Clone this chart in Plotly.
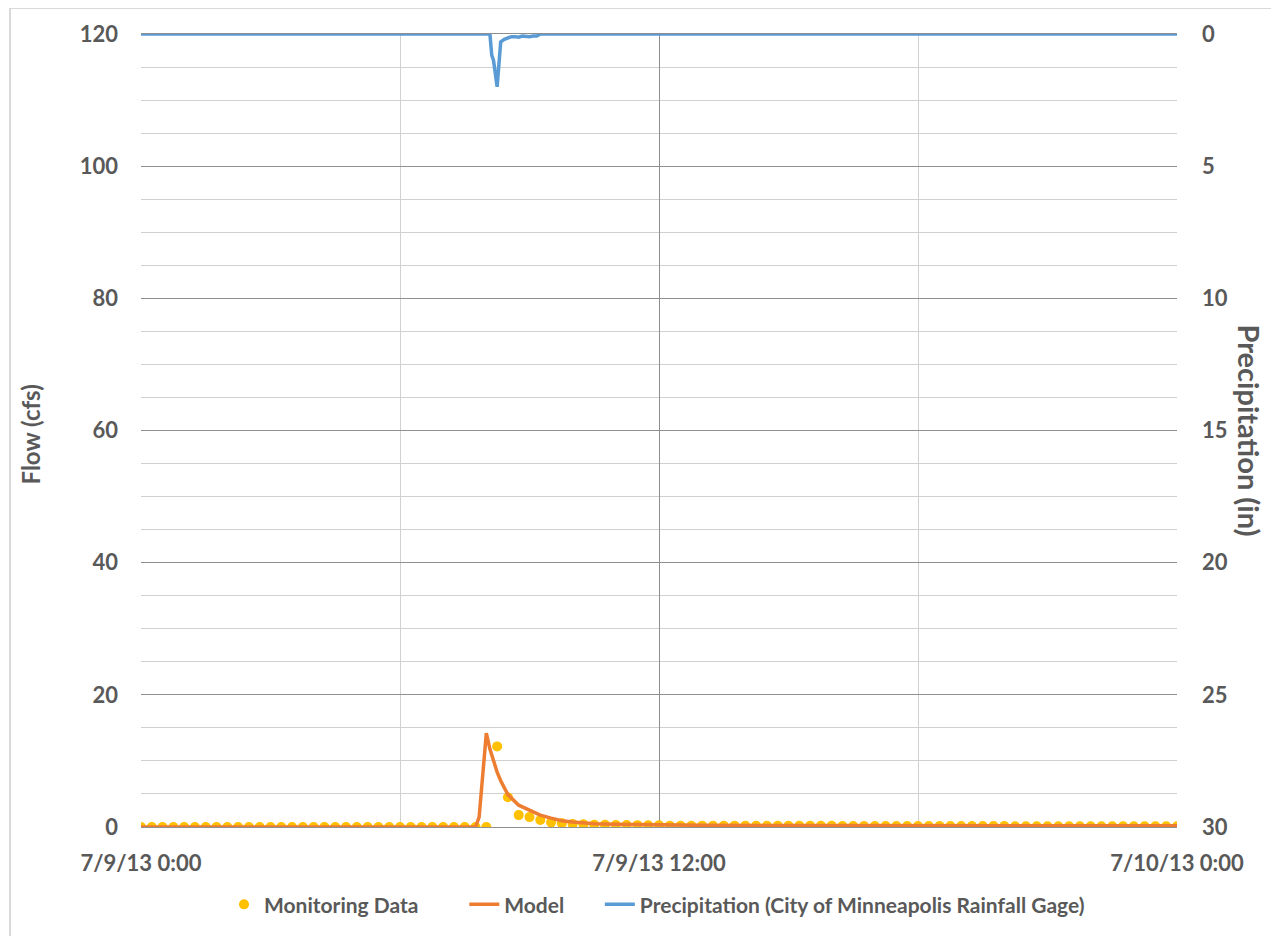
import pandas as pd
import plotly.graph_objects as go

# ---------------- data ----------------
base = pd.Timestamp("2013-07-09 00:00")

# Monitoring data: 15-minute flow (cfs), 7/9/13 0:00 .. 7/10/13 0:00
monitoring_flow = [
    0, 0, 0, 0, 0, 0, 0, 0, 0, 0, 0, 0, 0, 0, 0, 0,
    0, 0, 0, 0, 0, 0, 0, 0, 0, 0, 0, 0, 0, 0, 0, 0,
    0,
    12.2, 4.5, 1.8, 1.5, 1.05, 0.7, 0.55, 0.45, 0.4, 0.35, 0.33, 0.3, 0.3, 0.28, 0.27, 0.25,
    0.2, 0.2, 0.2, 0.2, 0.2, 0.2, 0.2, 0.2, 0.2, 0.2, 0.2, 0.2, 0.2, 0.2, 0.2, 0.2,
    0.15, 0.15, 0.15, 0.15, 0.15, 0.15, 0.15, 0.15, 0.15, 0.15, 0.15, 0.15, 0.15, 0.15, 0.15, 0.15,
    0.12, 0.12, 0.12, 0.12, 0.12, 0.12, 0.12, 0.12, 0.12, 0.12, 0.12, 0.12, 0.12, 0.12, 0.12, 0.12,
]
monitoring_time = pd.date_range(base, periods=len(monitoring_flow), freq="15min")

# Model flow (cfs), hours after 7/9/13 0:00
model_hours = [0, 7.75, 7.833, 8.0, 8.083, 8.167, 8.25, 8.333, 8.417, 8.5, 8.75, 9.0,
               9.25, 9.5, 9.75, 10.0, 10.25, 10.5, 11.0, 11.5, 12.0, 13.0, 15.0, 18.0, 21.0, 24.0]
model_flow = [0, 0, 1.5, 14.2, 11.8, 10.0, 8.3, 7.0, 5.8, 4.9, 3.3, 2.5,
              1.8, 1.35, 0.95, 0.75, 0.6, 0.5, 0.4, 0.33, 0.28, 0.25, 0.22, 0.2, 0.2, 0.2]

# Precipitation (in), hours after 7/9/13 0:00
precip_hours = [0, 8.083, 8.125, 8.167, 8.25, 8.333, 8.417, 8.5, 8.583, 8.667, 8.75, 8.833,
                8.917, 9.0, 9.083, 9.167, 9.25, 24.0]
precip_in = [0, 0, 0.8, 1.0, 2.0, 0.3, 0.2, 0.15, 0.1, 0.1, 0.12, 0.08,
             0.1, 0.1, 0.08, 0.08, 0, 0]

tick_hours = [0, 12, 24]
tick_labels = ["7/9/13 0:00", "7/9/13 12:00", "7/10/13 0:00"]

series_names = ["Monitoring Data", "Model",
                "Precipitation (City of Minneapolis Rainfall Gage)"]

# ---------------- figure ----------------
def to_time(hours):
    return [base + pd.Timedelta(hours=h) for h in hours]

FONT = "Lato"
TXT = "#595959"
MAJOR = "#8f8f8f"
MINOR = "#d0d0d0"

# page body has an 8px margin; plot area should span x 141..1177, y 31..827
W, H = 1279, 936
L, T = 133, 23
R, B = 110, 117
PW, PH = 1036, 796

def px_x(x):  # page pixel -> paper
    return (x - 141) / PW

def px_y(y):
    return (827 - y) / PH

NB = "\u00a0"

fig = go.Figure()
fig.add_trace(go.Scatter(
    x=monitoring_time, y=monitoring_flow, mode="markers", name=series_names[0] + NB * 8,
    marker=dict(color="#FFC000", size=10), yaxis="y"))
fig.add_trace(go.Scatter(
    x=to_time(model_hours), y=model_flow, mode="lines", name=series_names[1] + NB * 6,
    line=dict(color="#ED7D31", width=3.5), yaxis="y"))
fig.add_trace(go.Scatter(
    x=to_time(precip_hours), y=precip_in, mode="lines",
    name=series_names[2],
    line=dict(color="#5B9BD5", width=3.5), yaxis="y2"))

fig.update_layout(
    width=W, height=H,
    margin=dict(l=L, r=R, t=T, b=B),
    paper_bgcolor="white", plot_bgcolor="white",
    font=dict(family=FONT, color=TXT),
    showlegend=True,
    legend=dict(orientation="h", x=px_x(657), xanchor="center", y=px_y(905), yanchor="middle",
                font=dict(family=FONT, size=21, color=TXT, weight="bold"),
                itemwidth=30, traceorder="normal"),
    xaxis=dict(
        type="date",
        range=[base, base + pd.Timedelta(hours=24)],
        tickmode="array",
        tickvals=to_time(tick_hours), ticktext=tick_labels,
        showgrid=True, gridcolor=MAJOR, gridwidth=1.3,
        minor=dict(tickmode="array", tickvals=to_time([6, 18]),
                   showgrid=True, gridcolor=MINOR, gridwidth=1),
        showline=True, linecolor=MAJOR, linewidth=1.3, mirror=True,
        ticks="", ticklabelstandoff=16,
        tickfont=dict(family=FONT, size=22, color=TXT, weight="bold"),
        zeroline=False,
    ),
    yaxis=dict(
        range=[0, 120], tickmode="linear", tick0=0, dtick=20,
        showgrid=True, gridcolor=MAJOR, gridwidth=1.3,
        minor=dict(dtick=5, showgrid=True, gridcolor=MINOR, gridwidth=1),
        showline=False, zeroline=False, ticks="", ticklabelstandoff=22,
        tickfont=dict(family=FONT, size=22, color=TXT, weight="bold"),
    ),
    yaxis2=dict(
        overlaying="y", side="right", range=[30, 0], tickmode="linear", tick0=0, dtick=5,
        showgrid=False, zeroline=False, showline=False, ticks="", ticklabelstandoff=24,
        tickfont=dict(family=FONT, size=22, color=TXT, weight="bold"),
    ),
)

fig.add_annotation(text="Flow (cfs)", xref="paper", yref="paper",
                   x=px_x(30), y=px_y(433), textangle=-90, showarrow=False,
                   xanchor="center", yanchor="middle",
                   font=dict(family=FONT, size=24, color=TXT, weight="bold"))
fig.add_annotation(text="Precipitation (in)", xref="paper", yref="paper",
                   x=px_x(1249), y=px_y(429), textangle=90, showarrow=False,
                   xanchor="center", yanchor="middle",
                   font=dict(family=FONT, size=29, color=TXT, weight="bold"))

fig.add_shape(type="rect", xref="paper", yref="paper",
              x0=px_x(10), x1=px_x(1300),
              y0=px_y(960), y1=px_y(5),
              line=dict(color="#d9d9d9", width=2), layer="below")

fig.write_html("out.html")
